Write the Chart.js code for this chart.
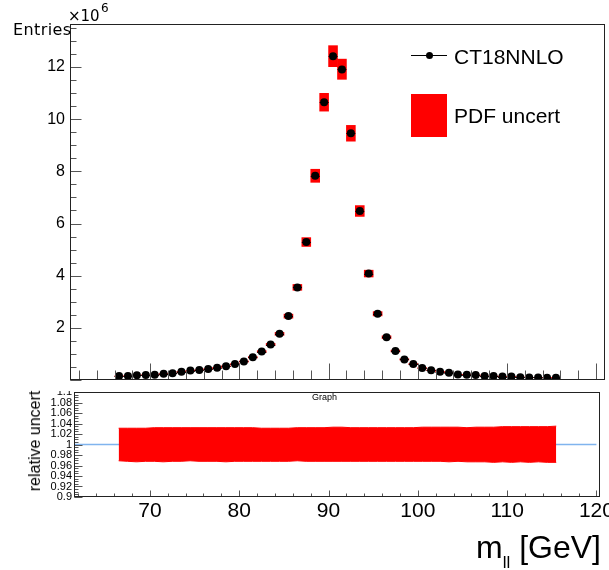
<!DOCTYPE html>
<html>
<head>
<meta charset="utf-8">
<script src="https://cdn.jsdelivr.net/npm/chart.js@4.4.0/dist/chart.umd.min.js"></script>
<style>
  body { margin: 0; width: 609px; height: 570px; background: #fff; position: relative; overflow: hidden;
         font-family: "Liberation Sans", Arial, sans-serif; }
  canvas { position: absolute; left: 0; }
  #mainCanvas { top: 0; }
  #ratioCanvas { top: 391px; }
  .txt { position: absolute; white-space: nowrap; line-height: 1; color: #000; }
</style>
</head>
<body>
<canvas id="mainCanvas" width="609" height="390"></canvas>
<canvas id="ratioCanvas" width="609" height="179"></canvas>

<div class="txt" style="left:68px; top:9px; font:15px 'DejaVu Sans'; line-height:1;">×10</div>
<div class="txt" style="left:101px; top:2px; font:12px 'DejaVu Sans'; line-height:1;">6</div>
<div class="txt" style="left:13px; top:22px; font:16px 'DejaVu Sans'; line-height:1; letter-spacing:0.4px;">Entries</div>

<!-- legend -->
<div style="position:absolute; left:411px; top:55px; width:36px; height:1px; background:#000;"></div>
<div style="position:absolute; left:426px; top:52px; width:7px; height:7px; border-radius:50%; background:#000;"></div>
<div class="txt" style="left:454px; top:46px; font-size:21px;">CT18NNLO</div>
<div style="position:absolute; left:411px; top:94px; width:36px; height:43px; background:#ff0000;"></div>
<div class="txt" style="left:454px; top:105px; font-size:21px;">PDF uncert</div>

<div class="txt" style="left:312px; top:393px; font-size:9px;">Graph</div>
<div class="txt" style="left:35px; top:441px; font-size:16px; transform:translate(-50%,-50%) rotate(-90deg);">relative uncert</div>
<div class="txt" style="right:8px; top:531px; font-size:32px;">m<span style="font-size:17px; position:relative; top:10px;">ll</span> [GeV]</div>

<script>
const FONT = '"Liberation Sans", Arial, sans-serif';

/* =========================
   DATA
========================= */

// bin centres of m_ll [GeV]
const massBins = [
  66.5, 67.5, 68.5, 69.5, 70.5, 71.5, 72.5, 73.5, 74.5, 75.5,
  76.5, 77.5, 78.5, 79.5, 80.5, 81.5, 82.5, 83.5, 84.5, 85.5,
  86.5, 87.5, 88.5, 89.5, 90.5, 91.5, 92.5, 93.5, 94.5, 95.5,
  96.5, 97.5, 98.5, 99.5, 100.5, 101.5, 102.5, 103.5, 104.5, 105.5,
  106.5, 107.5, 108.5, 109.5, 110.5, 111.5, 112.5, 113.5, 114.5, 115.5
];

// CT18NNLO entries, in units of 10^6
const entriesMillions = [
  0.15, 0.15, 0.18, 0.19, 0.20, 0.24, 0.26, 0.32, 0.36, 0.38,
  0.42, 0.47, 0.53, 0.61, 0.71, 0.87, 1.09, 1.36, 1.77, 2.45,
  3.55, 5.29, 7.83, 10.65, 12.41, 11.91, 9.46, 6.48, 4.08, 2.54,
  1.64, 1.11, 0.79, 0.61, 0.46, 0.37, 0.32, 0.28, 0.21, 0.20,
  0.19, 0.15, 0.15, 0.13, 0.13, 0.11, 0.10, 0.10, 0.09, 0.09
];

// PDF uncertainty, relative upper / lower edge
const relUp = [
  1.031, 1.031, 1.031, 1.031, 1.032, 1.032, 1.032, 1.032, 1.032, 1.032,
  1.032, 1.032, 1.032, 1.032, 1.032, 1.032, 1.031, 1.031, 1.031, 1.031,
  1.032, 1.032, 1.032, 1.032, 1.033, 1.033, 1.032, 1.032, 1.032, 1.032,
  1.032, 1.032, 1.032, 1.032, 1.033, 1.033, 1.033, 1.033, 1.033, 1.032,
  1.033, 1.033, 1.033, 1.034, 1.034, 1.034, 1.034, 1.034, 1.034, 1.035
];
const relDown = [
  0.969, 0.968, 0.967, 0.968, 0.968, 0.967, 0.968, 0.968, 0.969, 0.968,
  0.968, 0.968, 0.967, 0.968, 0.968, 0.968, 0.968, 0.968, 0.968, 0.968,
  0.969, 0.968, 0.968, 0.968, 0.968, 0.968, 0.968, 0.968, 0.968, 0.968,
  0.968, 0.968, 0.968, 0.968, 0.968, 0.968, 0.968, 0.967, 0.968, 0.967,
  0.967, 0.967, 0.966, 0.967, 0.966, 0.967, 0.966, 0.967, 0.966, 0.966
];

// reference line at 1 in the lower panel
const refLineX = [61.5, 120];
const refLineY = [1, 1];

// tick labels
const mainYTicks = [2, 4, 6, 8, 10, 12];
const xTicks = [70, 80, 90, 100, 110, 120];
const ratioYTicks = [0.9, 0.92, 0.94, 0.96, 0.98, 1, 1.02, 1.04, 1.06, 1.08, 1.1];

const BIN_HALF = 0.5;

/* =========================
   HELPERS
========================= */

function steps(from, to, step) {
  const out = [];
  for (let v = from; v <= to + 1e-9; v += step) out.push(Math.round(v * 1000) / 1000);
  return out;
}

// ROOT style frame with ticks drawn inside
const framePlugin = {
  id: 'frame',
  afterDatasetsDraw(chart, args, o) {
    const { ctx, chartArea: a, scales: { x, y } } = chart;
    const l = Math.round(a.left) + 0.5, r = Math.round(a.right) - 0.5;
    const t = Math.round(a.top) + 0.5, b = Math.round(a.bottom) - 0.5;
    ctx.save();
    ctx.lineWidth = 1;
    ctx.strokeStyle = '#555';
    ctx.beginPath();
    const tickX = (vals, len) => vals.forEach(v => {
      if (v < x.min || v > x.max) return;
      const px = Math.round(x.getPixelForValue(v)) + 0.5;
      ctx.moveTo(px, b); ctx.lineTo(px, b - len);
    });
    const tickY = (vals, len) => vals.forEach(v => {
      if (v < y.min || v > y.max) return;
      const py = Math.round(y.getPixelForValue(v)) + 0.5;
      ctx.moveTo(l, py); ctx.lineTo(l + len, py);
    });
    tickX(o.xMinor, o.xMinorLen);
    tickX(o.xMajor, o.xMajorLen);
    tickY(o.yMinor, o.yMinorLen);
    tickY(o.yMajor, o.yMajorLen);
    ctx.stroke();
    ctx.strokeStyle = '#222';
    ctx.strokeRect(l, t, r - l, b - t);
    ctx.restore();
  }
};

// horizontal bin-width error bars on the points
const errorBarPlugin = {
  id: 'errbars',
  afterDatasetsDraw(chart) {
    const { ctx, scales: { x, y } } = chart;
    ctx.save();
    ctx.strokeStyle = '#000';
    ctx.lineWidth = 1;
    ctx.beginPath();
    massBins.forEach((m, i) => {
      const py = Math.round(y.getPixelForValue(entriesMillions[i])) + 0.5;
      ctx.moveTo(x.getPixelForValue(m - BIN_HALF), py);
      ctx.lineTo(x.getPixelForValue(m + BIN_HALF), py);
    });
    ctx.stroke();
    ctx.restore();
  }
};

/* =========================
   UPPER PANEL
========================= */

new Chart(document.getElementById('mainCanvas'), {
  type: 'scatter',
  data: {
    datasets: [
      {
        type: 'bar',
        label: 'PDF uncert',
        data: massBins.map((m, i) => ({ x: m, y: [entriesMillions[i] * relDown[i], entriesMillions[i] * relUp[i]] })),
        backgroundColor: '#ff0000',
        borderWidth: 0,
        barPercentage: 1,
        categoryPercentage: 1,
        order: 2
      },
      {
        type: 'scatter',
        label: 'CT18NNLO',
        data: massBins.map((m, i) => ({ x: m, y: entriesMillions[i] })),
        pointRadius: 4,
        pointBackgroundColor: '#000',
        pointBorderWidth: 0,
        order: 1
      }
    ]
  },
  options: {
    responsive: false,
    animation: false,
    devicePixelRatio: 1,
    layout: { padding: { top: 24, right: 4, left: 0, bottom: 0 } },
    plugins: {
      legend: { display: false },
      tooltip: { enabled: false },
      frame: {
        xMajor: xTicks, xMajorLen: 16, xMinor: steps(60, 122, 2), xMinorLen: 9,
        yMajor: [0].concat(mainYTicks), yMajorLen: 11, yMinor: steps(0, 14, 0.5), yMinorLen: 6
      }
    },
    scales: {
      x: {
        type: 'linear', min: 61, max: 121, offset: false,
        grid: { display: false, drawTicks: false },
        border: { display: false },
        ticks: { display: false },
        afterFit: s => { s.height = 10; s.paddingLeft = 0; s.paddingRight = 0; }
      },
      y: {
        min: 0, max: 13.65,
        grid: { display: false, drawTicks: false },
        border: { display: false },
        ticks: { color: '#000', padding: 5, autoSkip: false, font: { family: FONT, size: 16 } },
        afterBuildTicks: s => { s.ticks = mainYTicks.map(v => ({ value: v })); },
        afterFit: s => { s.width = 70; s.paddingTop = 0; s.paddingBottom = 0; }
      }
    }
  },
  plugins: [errorBarPlugin, framePlugin]
});

/* =========================
   LOWER PANEL (RATIO)
========================= */

new Chart(document.getElementById('ratioCanvas'), {
  type: 'scatter',
  data: {
    datasets: [
      {
        type: 'line',
        data: massBins.map((m, i) => ({ x: m, y: relUp[i] })),
        borderColor: '#ff0000',
        backgroundColor: '#ff0000',
        borderWidth: 1,
        pointRadius: 0,
        fill: '+1',
        order: 1
      },
      {
        type: 'line',
        data: massBins.map((m, i) => ({ x: m, y: relDown[i] })),
        borderColor: '#ff0000',
        borderWidth: 1,
        pointRadius: 0,
        fill: false,
        order: 1
      },
      {
        type: 'line',
        data: refLineX.map((v, i) => ({ x: v, y: refLineY[i] })),
        borderColor: '#80b4ee',
        borderWidth: 1.5,
        pointRadius: 0,
        fill: false,
        order: 3
      }
    ]
  },
  options: {
    responsive: false,
    animation: false,
    devicePixelRatio: 1,
    layout: { padding: { top: 1, right: 9, left: 0, bottom: 0 } },
    plugins: {
      legend: { display: false },
      tooltip: { enabled: false },
      frame: {
        xMajor: xTicks, xMajorLen: 6, xMinor: steps(62, 120, 2), xMinorLen: 3,
        yMajor: ratioYTicks, yMajorLen: 8, yMinor: steps(0.9, 1.1, 0.005), yMinorLen: 4
      }
    },
    scales: {
      x: {
        type: 'linear', min: 61.5, max: 120.4, offset: false,
        grid: { display: false, drawTicks: false },
        border: { display: false },
        ticks: { color: '#000', padding: 2, autoSkip: false, font: { family: FONT, size: 21 } },
        afterBuildTicks: s => { s.ticks = xTicks.map(v => ({ value: v })); },
        afterFit: s => { s.height = 73; s.paddingLeft = 0; s.paddingRight = 0; }
      },
      y: {
        min: 0.9, max: 1.1,
        grid: { display: false, drawTicks: false },
        border: { display: false },
        ticks: {
          color: '#000', padding: 2, autoSkip: false, font: { family: FONT, size: 11 },
          callback: v => String(Number(v.toFixed(2)))
        },
        afterBuildTicks: s => { s.ticks = ratioYTicks.map(v => ({ value: v })); },
        afterFit: s => { s.width = 74; s.paddingTop = 0; s.paddingBottom = 0; }
      }
    }
  },
  plugins: [framePlugin]
});
</script>
</body>
</html>
